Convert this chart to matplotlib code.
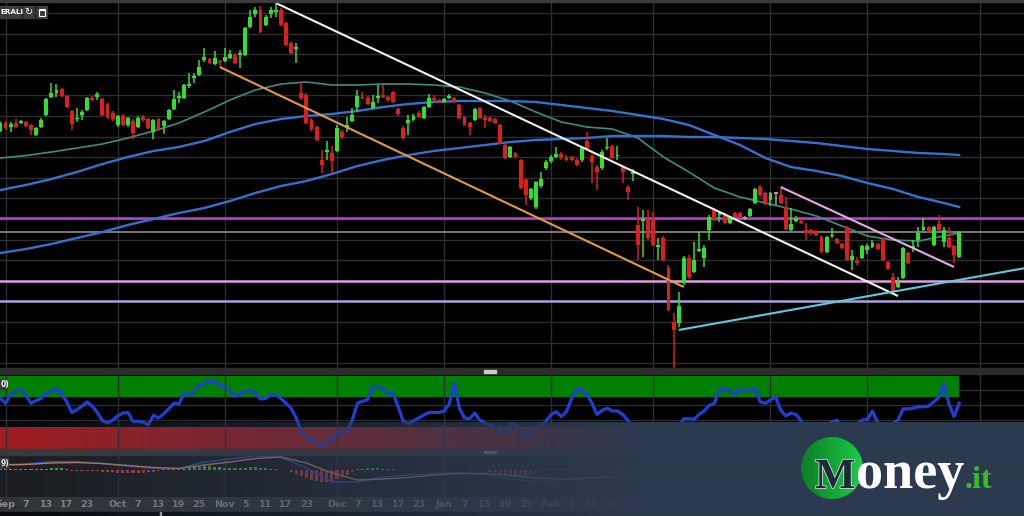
import matplotlib
matplotlib.use("Agg")
import matplotlib.pyplot as plt
import matplotlib.patheffects as pe
from matplotlib.colors import LinearSegmentedColormap
from matplotlib.patches import Circle, Rectangle
import numpy as np
import pandas as pd

# ---------------- data (price scale approximate) ----------------
holidays = ["2021-12-24", "2021-12-31", "2022-04-15", "2022-04-18"]
first_day, last_day = "2021-08-31", "2022-06-30"
n_candles = 189

opens = [
    18.69, 18.77, 18.73, 18.77, 18.77, 18.78, 18.75, 18.65, 18.73, 18.85, 19.03,
    19.07, 19.11, 19.04, 18.89, 18.81, 18.85, 18.90, 19.02, 19.03, 19.01,
    18.96, 18.87, 18.75, 18.84, 18.75, 18.79, 18.73, 18.83, 18.81, 18.68,
    18.81, 18.74, 18.81, 18.91, 19.02, 19.02, 19.14, 19.22, 19.25, 19.40,
    19.41, 19.36, 19.39, 19.39, 19.42, 19.45, 19.45, 19.45, 19.73, 19.86,
    19.90, 19.75, 19.86, 19.88, 19.90, 19.77, 19.57, 19.51, 19.07, 19.05,
    18.80, 18.73, 18.40, 18.48, 18.47, 18.49, 18.68, 18.72, 18.79, 18.93,
    19.03, 19.02, 18.92, 19.02, 19.05, 19.03, 19.08, 18.91, 18.72, 18.77,
    18.80, 18.87, 18.82, 18.93, 19.02, 19.00, 18.98, 19.02, 19.02, 18.95,
    18.83, 18.77, 18.80, 18.92, 18.82, 18.82, 18.81, 18.75, 18.55, 18.43,
    18.47, 18.40, 18.20, 18.02, 17.93, 18.14, 18.32, 18.39, 18.43, 18.46,
    18.43, 18.43, 18.40, 18.40, 18.59, 18.44, 18.33, 18.32, 18.52, 18.54,
    18.44, 18.33, 18.13, 18.26, 17.75, 17.79, 17.81, 17.81, 17.53, 17.62,
    17.32, 16.78, 16.77, 17.17, 17.42, 17.28, 17.49, 17.42, 17.70, 17.90,
    17.85, 17.85, 17.77, 17.87, 17.87, 17.82, 17.84, 17.97, 18.13, 18.07,
    18.00, 18.07, 18.05, 17.93, 17.70, 17.79, 17.79, 17.70, 17.70, 17.69,
    17.63, 17.48, 17.64, 17.61, 17.56, 17.73, 17.40, 17.39, 17.42, 17.50,
    17.53, 17.56, 17.61, 17.38, 17.23, 17.13, 17.22, 17.47, 17.52, 17.60,
    17.70, 17.73, 17.55, 17.76, 17.58, 17.62, 17.54, 17.43,
]
highs = [
    18.79, 18.79, 18.78, 18.81, 18.80, 18.79, 18.76, 18.73, 18.82, 19.02, 19.17,
    19.16, 19.12, 19.05, 18.90, 18.92, 18.90, 19.03, 19.04, 19.08, 19.02,
    18.97, 18.89, 18.85, 18.86, 18.83, 18.81, 18.84, 18.85, 18.82, 18.81,
    18.82, 18.80, 18.91, 19.10, 19.08, 19.16, 19.27, 19.27, 19.40, 19.52,
    19.42, 19.49, 19.40, 19.52, 19.50, 19.47, 19.50, 19.73, 19.90, 19.93,
    19.94, 19.85, 19.93, 19.97, 19.92, 19.78, 19.58, 19.57, 19.19, 19.07,
    18.82, 18.74, 18.50, 18.59, 18.54, 18.75, 18.70, 18.83, 18.92, 19.10,
    19.08, 19.04, 19.05, 19.15, 19.15, 19.04, 19.09, 18.92, 18.74, 18.85,
    18.86, 18.89, 18.94, 19.06, 19.05, 19.01, 19.02, 19.06, 19.03, 18.96,
    18.84, 18.78, 18.92, 18.93, 18.85, 18.83, 18.82, 18.76, 18.56, 18.54,
    18.48, 18.41, 18.22, 18.12, 18.19, 18.28, 18.40, 18.45, 18.53, 18.48,
    18.45, 18.44, 18.42, 18.54, 18.68, 18.46, 18.35, 18.50, 18.62, 18.55,
    18.54, 18.34, 18.15, 18.31, 17.93, 17.90, 17.90, 17.88, 17.62, 17.64,
    17.35, 16.87, 17.08, 17.44, 17.45, 17.58, 17.68, 17.55, 17.85, 17.92,
    17.89, 17.87, 17.84, 17.88, 17.88, 17.84, 17.92, 18.12, 18.15, 18.08,
    18.08, 18.08, 18.12, 18.03, 17.92, 17.84, 17.80, 17.77, 17.71, 17.70,
    17.64, 17.64, 17.72, 17.62, 17.57, 17.74, 17.50, 17.43, 17.55, 17.56,
    17.60, 17.57, 17.62, 17.39, 17.27, 17.23, 17.53, 17.48, 17.60, 17.73,
    17.82, 17.74, 17.74, 17.85, 17.73, 17.73, 17.55, 17.69,
]
lows = [
    18.68, 18.70, 18.68, 18.72, 18.76, 18.73, 18.65, 18.64, 18.72, 18.84, 19.02,
    19.03, 19.03, 18.92, 18.70, 18.78, 18.80, 18.89, 18.99, 19.00, 18.84,
    18.81, 18.79, 18.73, 18.74, 18.73, 18.61, 18.72, 18.78, 18.71, 18.61,
    18.69, 18.66, 18.80, 18.90, 18.97, 19.01, 19.12, 19.17, 19.24, 19.38,
    19.36, 19.35, 19.34, 19.38, 19.41, 19.36, 19.32, 19.44, 19.72, 19.83,
    19.67, 19.74, 19.82, 19.83, 19.74, 19.54, 19.46, 19.37, 19.00, 18.76,
    18.69, 18.59, 18.27, 18.40, 18.27, 18.48, 18.61, 18.68, 18.78, 18.88,
    19.01, 18.95, 18.91, 18.97, 19.02, 18.98, 18.97, 18.84, 18.60, 18.65,
    18.79, 18.82, 18.81, 18.92, 18.99, 18.97, 18.97, 19.01, 18.97, 18.81,
    18.74, 18.65, 18.79, 18.81, 18.72, 18.78, 18.76, 18.56, 18.41, 18.42,
    18.42, 18.11, 17.95, 18.00, 17.91, 18.12, 18.30, 18.37, 18.42, 18.40,
    18.39, 18.39, 18.34, 18.38, 18.50, 18.17, 18.10, 18.30, 18.50, 18.41,
    18.40, 18.17, 18.00, 18.19, 17.40, 17.43, 17.60, 17.54, 17.40, 17.39,
    16.89, 16.32, 16.73, 17.15, 17.21, 17.27, 17.48, 17.33, 17.60, 17.79,
    17.78, 17.76, 17.76, 17.82, 17.82, 17.80, 17.83, 17.96, 18.03, 17.95,
    17.94, 17.95, 17.96, 17.70, 17.69, 17.78, 17.76, 17.60, 17.65, 17.64,
    17.47, 17.47, 17.62, 17.56, 17.51, 17.39, 17.30, 17.35, 17.41, 17.46,
    17.52, 17.50, 17.39, 17.30, 17.07, 17.12, 17.21, 17.36, 17.48, 17.53,
    17.69, 17.67, 17.54, 17.69, 17.53, 17.52, 17.37, 17.42,
]
closes = [
    18.77, 18.72, 18.76, 18.73, 18.79, 18.74, 18.70, 18.72, 18.80, 19.01, 19.07,
    19.10, 19.04, 18.93, 18.76, 18.82, 18.88, 19.02, 19.00, 19.06, 18.85,
    18.83, 18.81, 18.84, 18.75, 18.82, 18.67, 18.82, 18.80, 18.72, 18.80,
    18.70, 18.79, 18.90, 19.01, 19.04, 19.15, 19.16, 19.24, 19.33, 19.43,
    19.37, 19.42, 19.38, 19.43, 19.46, 19.37, 19.47, 19.72, 19.83, 19.90,
    19.68, 19.83, 19.90, 19.90, 19.75, 19.55, 19.47, 19.53, 19.02, 18.77,
    18.71, 18.60, 18.35, 18.50, 18.39, 18.72, 18.63, 18.75, 18.85, 19.04,
    19.02, 18.96, 18.98, 19.04, 19.03, 19.00, 18.98, 18.86, 18.62, 18.80,
    18.84, 18.83, 18.93, 19.02, 19.00, 18.99, 19.01, 19.04, 18.98, 18.82,
    18.75, 18.73, 18.91, 18.82, 18.80, 18.79, 18.77, 18.57, 18.42, 18.53,
    18.43, 18.12, 18.05, 18.11, 18.18, 18.21, 18.38, 18.43, 18.46, 18.42,
    18.40, 18.40, 18.35, 18.52, 18.51, 18.38, 18.28, 18.48, 18.53, 18.42,
    18.45, 18.28, 18.08, 18.28, 17.55, 17.81, 17.62, 17.55, 17.55, 17.40,
    16.90, 16.70, 16.94, 17.42, 17.23, 17.40, 17.51, 17.52, 17.83, 17.81,
    17.87, 17.77, 17.82, 17.83, 17.83, 17.82, 17.91, 18.11, 18.05, 17.96,
    18.07, 18.07, 17.97, 17.71, 17.76, 17.82, 17.77, 17.67, 17.67, 17.65,
    17.48, 17.63, 17.65, 17.57, 17.52, 17.40, 17.44, 17.37, 17.54, 17.54,
    17.57, 17.51, 17.40, 17.31, 17.08, 17.17, 17.52, 17.37, 17.54, 17.67,
    17.73, 17.68, 17.73, 17.70, 17.70, 17.53, 17.45, 17.68,
]

# moving averages, read every 5th session plus the last one
ma_teal = [18.42, 18.445, 18.48, 18.52, 18.56, 18.62, 18.69, 18.77, 18.88, 19.00,
           19.10, 19.16, 19.18, 19.15, 19.15, 19.16, 19.16, 19.15, 19.13, 19.07,
           18.99, 18.88, 18.78, 18.73, 18.71, 18.62, 18.43, 18.28, 18.12, 18.03,
           17.97, 17.91, 17.84, 17.74, 17.64, 17.60, 17.59, 17.64, 17.67]
ma_blue_fast = [18.10, 18.15, 18.21, 18.28, 18.36, 18.43, 18.49, 18.53, 18.59, 18.68,
                18.76, 18.81, 18.84, 18.86, 18.89, 18.93, 18.96, 18.98, 18.99, 18.99,
                18.99, 18.98, 18.95, 18.92, 18.89, 18.85, 18.81, 18.75, 18.65, 18.55,
                18.42, 18.33, 18.29, 18.24, 18.17, 18.11, 18.03, 17.97, 17.93]
ma_blue_slow = [17.47, 17.51, 17.56, 17.62, 17.68, 17.75, 17.81, 17.87, 17.92, 17.99,
                18.07, 18.14, 18.19, 18.26, 18.34, 18.40, 18.45, 18.49, 18.52, 18.55,
                18.58, 18.60, 18.61, 18.62, 18.64, 18.64, 18.64, 18.63, 18.63, 18.62,
                18.61, 18.59, 18.57, 18.54, 18.51, 18.49, 18.47, 18.46, 18.45]

rsi = [
    68, 61, 73, 79, 80, 73, 61, 65, 68, 76, 78,
    82, 75, 63, 48, 52, 57, 63, 57, 48, 36,
    33, 37, 43, 47, 48, 35, 35, 34, 30, 44,
    40, 46, 53, 61, 60, 75, 73, 77, 87, 89,
    93, 92, 86, 85, 79, 71, 74, 79, 79, 76,
    67, 68, 73, 73, 68, 61, 54, 40, 20, 12,
    10, 5, 1, 6, 8, 20, 20, 21, 37, 61,
    64, 66, 85, 85, 82, 75, 75, 56, 35, 32,
    36, 40, 44, 48, 48, 48, 50, 60, 90, 54,
    40, 39, 47, 37, 33, 30, 25, 27, 16, 32,
    31, 20, 10, 19, 25, 29, 36, 45, 49, 42,
    49, 68, 81, 81, 74, 61, 45, 51, 54, 50,
    50, 45, 37, 24, 24, 31, 32, 20, 18, 16,
    13, 12, 28, 39, 39, 38, 45, 50, 58, 61,
    80, 81, 79, 74, 81, 79, 80, 82, 63, 61,
    66, 70, 51, 43, 47, 45, 36, 22, 19, 18,
    23, 30, 34, 37, 27, 20, 27, 32, 37, 38,
    50, 33, 28, 28, 32, 37, 53, 53, 54, 56,
    56, 57, 63, 69, 89, 60, 42, 61,
]

macd_line = [0.055, 0.06, 0.085, 0.085, 0.063, 0.04, 0.015, 0.015, 0.08, 0.11,
             0.14, 0.13, 0.02, -0.12, -0.12, -0.07, -0.05, -0.035, -0.027, -0.045,
             -0.09, -0.12, -0.09, -0.075, -0.06, -0.07, -0.14, -0.18, -0.09, -0.02,
             0.0, -0.01, -0.05, -0.08, -0.07, -0.05, -0.01, 0.02, 0.03]
macd_signal = [0.05, 0.055, 0.07, 0.075, 0.065, 0.045, 0.025, 0.015, 0.05, 0.08,
               0.115, 0.13, 0.07, -0.03, -0.1, -0.09, -0.075, -0.05, -0.035, -0.035,
               -0.055, -0.08, -0.09, -0.085, -0.07, -0.06, -0.09, -0.14, -0.14, -0.09,
               -0.05, -0.03, -0.035, -0.05, -0.06, -0.06, -0.04, -0.02, 0.0]
macd_hist = [
    0.01, 0.01, 0.01, 0.01, 0.01, 0.01, 0.01, 0.01, 0.01,
    0.015, 0.02, 0.02, 0.02, 0.015,
    -0.005, -0.005, -0.005, -0.005, -0.005,
    -0.01, -0.015, -0.02, -0.02, -0.025, -0.03, -0.03, -0.03, -0.03, -0.025, -0.02, -0.015, -0.01,
    0.01, 0.01, 0.01, 0.01, 0.01,
    0.02, 0.03, 0.035, 0.04, 0.04, 0.035, 0.03, 0.025, 0.02, 0.02,
    0.02, 0.025, 0.03, 0.03, 0.025, 0.02,
    0.01, 0.01, 0.005, 0.0,
    -0.02, -0.04, -0.06, -0.08, -0.1, -0.11, -0.12, -0.12, -0.11, -0.09, -0.07, -0.05, -0.02,
    0.01, 0.015, 0.02, 0.02, 0.02, 0.015, 0.015, 0.01,
    0.005, 0.005, 0.005, 0.005, 0.005, 0.005, 0.005, 0.005, 0.005,
    0.005, 0.005, 0.005, 0.005, 0.005, 0.005, 0.005, 0.005, 0.005,
    -0.02, -0.03, -0.04, -0.05, -0.06, -0.07, -0.07, -0.06, -0.05, -0.03,
    0.01, 0.01, 0.01, 0.01, 0.01, 0.01, 0.01, 0.01, 0.01,
    0.01, 0.01, 0.01, 0.01, 0.01, 0.01, 0.01, 0.01, 0.01,
    -0.02, -0.03, -0.04, -0.05, -0.06, -0.07, -0.08, -0.08, -0.07, -0.05, -0.03, -0.01,
    0.01, 0.02, 0.03, 0.04, 0.05, 0.05, 0.05, 0.05, 0.04, 0.04, 0.03, 0.03, 0.02, 0.02, 0.01, 0.01,
    -0.01, -0.02, -0.03, -0.03, -0.03, -0.03, -0.03, -0.03, -0.02, -0.02,
    -0.02, -0.02, -0.02, -0.02, -0.02, -0.02, -0.01, -0.01, 0.0, 0.0,
    0.01, 0.01, 0.01, 0.0, 0.0, 0.01, 0.01, 0.02, 0.02, 0.02, 0.03, 0.03, 0.03, 0.03, 0.03, 0.02, 0.02,
]

# horizontal levels and drawn trend lines
level_prices = [17.82, 17.68, 17.19, 16.99]
level_colors = ["#b944c9", "#8e8e8e", "#dc9edc", "#a7a1e2"]
trend_dates = [("2021-11-15", "2022-05-10"), ("2021-10-29", "2022-03-09"),
               ("2022-04-05", "2022-05-25"), ("2022-03-08", "2022-06-14")]
trend_prices = [(19.97, 17.04), (19.33, 17.13), (18.13, 17.33), (16.70, 17.32)]
trend_colors = ["#f2f2f2", "#e39a40", "#e6a8e6", "#5ccbdb"]

month_starts = ["2021-09-01", "2021-10-01", "2021-11-01", "2021-12-01", "2022-01-03",
                "2022-02-01", "2022-03-01", "2022-04-01", "2022-05-02", "2022-06-01"]
# date labels still readable left of the banner
tick_dates = ["2021-09-01", "2021-09-07", "2021-09-13", "2021-09-17", "2021-09-23",
              "2021-10-01", "2021-10-07", "2021-10-13", "2021-10-19", "2021-10-25",
              "2021-11-01", "2021-11-05", "2021-11-11", "2021-11-17", "2021-11-23",
              "2021-12-01", "2021-12-07", "2021-12-13", "2021-12-17", "2021-12-23",
              "2022-01-03", "2022-01-07", "2022-01-13", "2022-01-19", "2022-01-25",
              "2022-02-01", "2022-02-07", "2022-02-11", "2022-02-17", "2022-02-23",
              "2022-03-01", "2022-03-07", "2022-03-11"]

# ---------------- layout helpers ----------------
W, H = 1024, 516
GREEN, RED, DOJI = "#2fe02f", "#e11c1c", "#a0a0a0"
GRID = "#2e2e2e"

cal = pd.bdate_range(first_day, last_day)
cal = cal[~cal.isin(pd.to_datetime(holidays))]


def loc(d):
    return cal.get_loc(pd.Timestamp(d))


x = np.arange(n_candles)
ma_x = list(x[::5]) + [x[-1]]
xlim = (-0.4 / 5.1, (W - 0.4) / 5.1)

fig = plt.figure(figsize=(W / 100, H / 100), dpi=100, facecolor="black")


def panel(top, bottom, face="black"):
    a = fig.add_axes([0, 1 - bottom / H, 1, (bottom - top) / H])
    a.set_facecolor(face)
    a.set_xlim(*xlim)
    a.set_xticks([])
    a.set_yticks([])
    for s in a.spines.values():
        s.set_visible(False)
    return a


month_x = [loc(d) for d in month_starts]

# ---------------- main price panel ----------------
ax = panel(0, 368)
ax.set_ylim(16.32, 20.0)
for gy in np.arange(19.87, 16.3, -0.206):
    ax.axhline(gy, color=GRID, lw=1, zorder=0)
for mx in month_x:
    ax.axvline(mx, color=GRID, lw=1, zorder=0)

for p, col in zip(level_prices, level_colors):
    ax.axhline(p, color=col, lw=1.8 if col != "#8e8e8e" else 1.2, zorder=1)

ax.plot(ma_x, ma_teal, color="#3b8f82", lw=1.2, zorder=2)
ax.plot(ma_x, ma_blue_fast, color="#3572cf", lw=1.7, zorder=2)
ax.plot(ma_x, ma_blue_slow, color="#3470d0", lw=1.7, zorder=2)

o, h, l, c = (np.array(v) for v in (opens, highs, lows, closes))
cols = np.where(c > o, GREEN, np.where(c < o, RED, DOJI))
ax.vlines(x, l, h, colors=cols, lw=1.1, zorder=3)
body = np.maximum(np.abs(c - o), 0.016)
ax.bar(x, body, 0.76, bottom=(o + c) / 2 - body / 2, color=cols, lw=0, zorder=4)

for (d0, d1), (p0, p1), col in zip(trend_dates, trend_prices, trend_colors):
    ax.plot([loc(d0), loc(d1)], [p0, p1], color=col, lw=1.5, zorder=5,
            solid_capstyle="butt")

# ---------------- RSI panel ----------------
rs = panel(374, 449)
rs.set_ylim(-4.29, 102.86)
last = x[-1]
rs.fill_between([xlim[0], last], 70, 100, color="#008000", lw=0, zorder=1)
rs.fill_between([xlim[0], last], -4.29, 27.1, color="#b51818", lw=0, zorder=1)
for gy in (80, 59, 37):
    rs.axhline(gy, color=GRID, lw=1, zorder=0)
for mx in month_x:
    rs.axvline(mx, color=GRID, lw=1, zorder=2)
rs.plot(x, rsi, color="#1f3fd6", lw=2.3, zorder=3)

# ---------------- MACD panel ----------------
mc = panel(455, 497, face="#181818")
mc.set_ylim(-0.27, 0.15)
for mx in month_x:
    mc.axvline(mx, color="#2a2a2a", lw=1, zorder=0)
hist = np.array(macd_hist)
mc.bar(x, hist, 0.6, color=np.where(hist >= 0, "#47b547", "#c23a3a"), lw=0, zorder=1)
mc.plot(ma_x, macd_line, color="#3a4bc8", lw=1.0, zorder=2)
mc.plot(ma_x, macd_signal, color="#cf8c62", lw=1.0, zorder=2)

# ---------------- date axis ----------------
lab = panel(497, 512, face="#333333")
lab.set_ylim(0, 1)
for d in tick_dates:
    t = pd.Timestamp(d)
    txt = t.strftime("%b") if d in month_starts else str(t.day)
    lab.text(loc(d), 0.5, txt, color="#9a9a9a", fontsize=6.8, fontweight="bold",
             ha="center", va="center")

# ---------------- chrome, banner overlay and logo (pixel coordinates) ----------------
ov = fig.add_axes([0, 0, 1, 1])
ov.axis("off")

ov.add_patch(Rectangle((0, 0), W, 1.5, color="#3c3c3c", zorder=1))
ov.add_patch(Rectangle((0, 368), W, 6, color="#2b2b2b", zorder=1))
ov.add_patch(Rectangle((484, 369.5), 12, 3, color="#c9c9c9", zorder=2))
ov.add_patch(Rectangle((0, 449), W, 6, color="#3a3a3a", zorder=1))
ov.add_patch(Rectangle((484, 450.5), 12, 2.5, color="#bdbdbd", zorder=2))
ov.add_patch(Rectangle((0, 512), W, 4, color="black", zorder=1))
ov.add_patch(Rectangle((159.5, 512), 1, 4, color="#d0d0d0", zorder=2))

# symbol box and toolbar icons
ov.add_patch(Rectangle((0, 6), 21, 12, color="#3b3b3b", zorder=6))
ov.text(0.3, 12.3, "ERALI", color="white", fontsize=5.2, fontweight="bold",
        va="center", ha="left", zorder=7)
ov.add_patch(Rectangle((23, 6), 11, 12, color="#3b3b3b", zorder=6))
ov.text(28.5, 12.3, "\u21bb", color="white", fontsize=7, va="center", ha="center",
        family=["DejaVu Sans"], zorder=7)
ov.add_patch(Rectangle((36, 6), 11, 12, color="#3b3b3b", zorder=6))
ov.add_patch(Rectangle((38.5, 8.5), 6, 7, fill=False, ec="white", lw=0.8, zorder=7))
ov.plot([38.5, 44.5], [10.3, 10.3], color="white", lw=0.8, zorder=7)

ov.add_patch(Rectangle((0, 379), 7, 10, color="#3b3b3b", zorder=6))
ov.text(0.3, 384.3, "0)", color="white", fontsize=5.5, fontweight="bold",
        va="center", zorder=7)
ov.add_patch(Rectangle((0, 458), 8, 10, color="#3b3b3b", zorder=3))
ov.text(0.3, 463.3, "9)", color="white", fontsize=5.5, fontweight="bold",
        va="center", zorder=3)

# slate banner fading in from the left
ramp = np.clip(0.15 + 0.85 * np.arange(W) / 640.0, 0, 1)
banner = np.zeros((1, W, 4))
banner[..., 0], banner[..., 1], banner[..., 2] = 44 / 255, 58 / 255, 80 / 255
banner[0, :, 3] = ramp
ov.imshow(banner, extent=(0, W, H, 422), aspect="auto", interpolation="bilinear", zorder=5)

# logo
cx, cy, r = 832, 468, 31
grad = np.tile(np.linspace(0, 1, 64), (64, 1))
gmap = LinearSegmentedColormap.from_list("logo", ["#0b7d27", "#1ccc47"])
im = ov.imshow(grad, cmap=gmap, extent=(cx - r, cx + r, cy + r, cy - r),
               aspect="auto", interpolation="bilinear", zorder=8)
disc = Circle((cx, cy), r, transform=ov.transData, facecolor="none", edgecolor="none")
ov.add_patch(disc)
im.set_clip_path(disc)

ov.text(815, 488, "M", color="#1c2a3b", fontsize=31, fontweight="bold",
        family="Liberation Serif", ha="left", va="baseline", zorder=9,
        path_effects=[pe.withStroke(linewidth=1.2, foreground="#cfd8d2")])
ov.text(856, 488, "oney", color="white", fontsize=39, fontweight="bold",
        family="Liberation Serif", ha="left", va="baseline", zorder=9)
ov.text(965, 488, ".it", color="#3cba2b", fontsize=23, fontweight="bold",
        family="Liberation Serif", ha="left", va="baseline", zorder=9)

ov.set_xlim(0, W)
ov.set_ylim(H, 0)

fig.savefig("out.png", dpi=100, facecolor=fig.get_facecolor())
